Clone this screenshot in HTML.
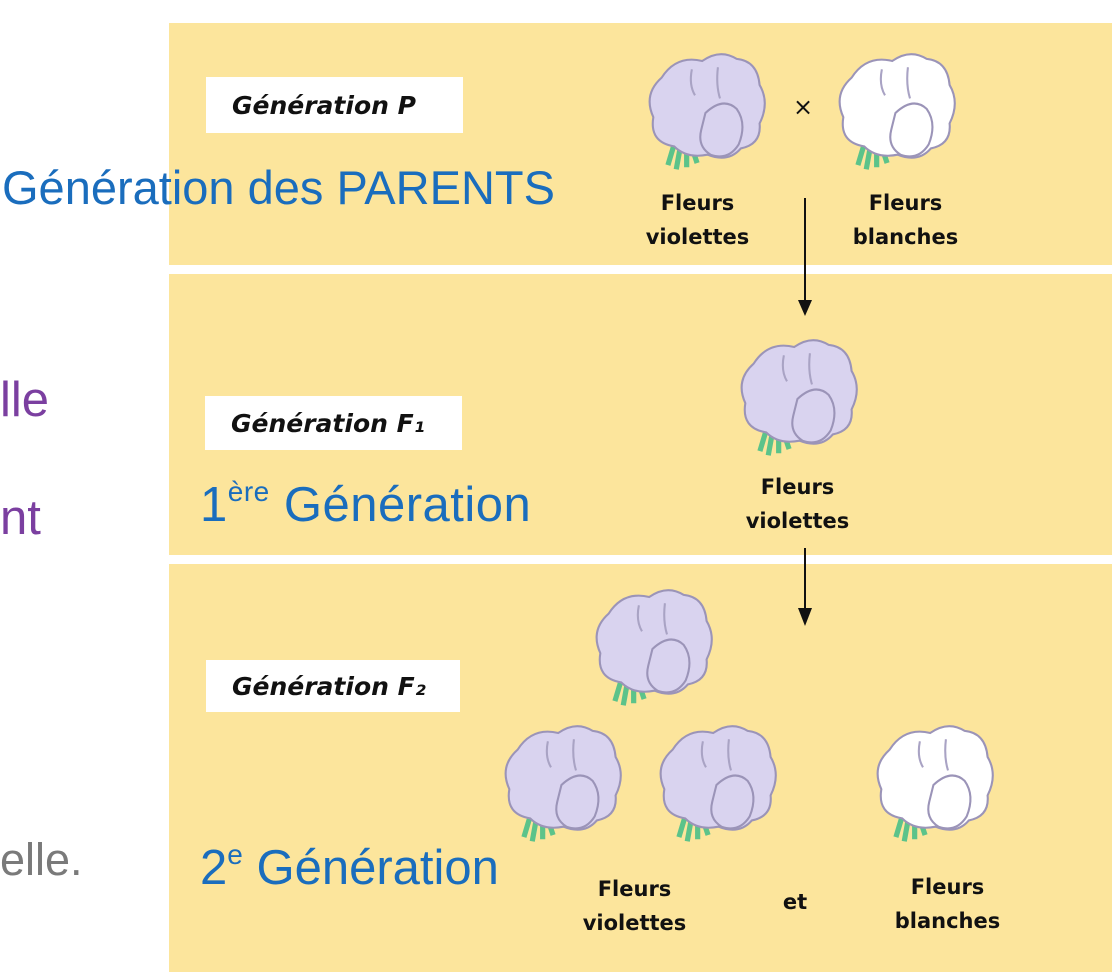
<!DOCTYPE html>
<html><head><meta charset="utf-8"><style>
body{margin:0;width:1112px;height:972px;background:#fff;position:relative;overflow:hidden;font-family:"Liberation Sans",sans-serif}
.p{position:absolute;left:169px;width:943px;background:#fce59c}
.lb{position:absolute;background:#fff;font-family:"Comic Sans MS","DejaVu Sans",sans-serif;font-weight:bold;font-style:italic;font-size:25px;color:#111;display:flex;align-items:center;padding-left:26px;box-sizing:border-box}
.t{position:absolute;font-family:"DejaVu Sans",sans-serif;font-weight:bold;font-size:21px;color:#111;text-align:center;line-height:34px}
.b{position:absolute;color:#1a6dbd;font-size:47px;white-space:nowrap}
svg.f{position:absolute}
</style></head><body>
<svg width="0" height="0" style="position:absolute"><defs>
<g id="fl">
<path d="M28 92 L22 112 M34 94 L30 116 M40 94 L40 114 M44 92 L50 110" stroke="#5cc38a" stroke-width="5" fill="none"/>
<path d="M16 28 Q30 6 55 12 Q72 0 88 10 Q108 12 110 35 Q120 52 110 72 Q112 92 92 96 Q80 110 60 102 Q40 106 28 94 Q4 90 8 66 Q-2 44 16 28Z" fill="var(--c)" stroke="#9b94b8" stroke-width="2"/>
<path d="M58 62 Q75 46 88 58 Q98 72 90 92 Q80 108 63 102 Q50 94 54 78Z" fill="var(--c)" stroke="#9b94b8" stroke-width="2"/>
<path d="M45 20 Q42 35 48 45 M70 18 Q68 35 72 48" stroke="#a9a3c4" stroke-width="2" fill="none"/>
</g></defs></svg>

<div class="p" style="top:23px;height:242px"></div>
<div class="p" style="top:274px;height:281px"></div>
<div class="p" style="top:564px;height:408px"></div>

<div class="lb" style="left:206px;top:77px;width:257px;height:56px">Génération P</div>
<div class="lb" style="left:205px;top:396px;width:257px;height:54px">Génération F₁</div>
<div class="lb" style="left:206px;top:660px;width:254px;height:52px">Génération F₂</div>

<svg class="f" style="left:645px;top:48px;--c:#d9d3ef" width="125" height="128" viewBox="0 0 120 122"><use href="#fl"/></svg>
<svg class="f" style="left:835px;top:48px;--c:#fff" width="125" height="128" viewBox="0 0 120 122"><use href="#fl"/></svg>
<svg class="f" style="left:737px;top:334px;--c:#d9d3ef" width="125" height="128" viewBox="0 0 120 122"><use href="#fl"/></svg>
<svg class="f" style="left:592px;top:584px;--c:#d9d3ef" width="125" height="128" viewBox="0 0 120 122"><use href="#fl"/></svg>
<svg class="f" style="left:501px;top:720px;--c:#d9d3ef" width="125" height="128" viewBox="0 0 120 122"><use href="#fl"/></svg>
<svg class="f" style="left:656px;top:720px;--c:#d9d3ef" width="125" height="128" viewBox="0 0 120 122"><use href="#fl"/></svg>
<svg class="f" style="left:873px;top:720px;--c:#fff" width="125" height="128" viewBox="0 0 120 122"><use href="#fl"/></svg>

<div class="t" style="left:793px;top:90px;font-weight:normal;font-size:24px">×</div>
<div class="t" style="left:630px;top:186px;width:135px">Fleurs<br>violettes</div>
<div class="t" style="left:838px;top:186px;width:135px">Fleurs<br>blanches</div>
<div class="t" style="left:730px;top:470px;width:135px">Fleurs<br>violettes</div>
<div class="t" style="left:567px;top:872px;width:135px">Fleurs<br>violettes</div>
<div class="t" style="left:775px;top:885px;width:40px">et</div>
<div class="t" style="left:880px;top:870px;width:135px">Fleurs<br>blanches</div>

<svg class="f" style="left:795px;top:198px" width="20" height="440">
<line x1="10" y1="0" x2="10" y2="112" stroke="#111" stroke-width="2"/>
<path d="M3 102 L10 118 L17 102 Z" fill="#111"/>
<line x1="10" y1="350" x2="10" y2="420" stroke="#111" stroke-width="2"/>
<path d="M3 410 L10 428 L17 410 Z" fill="#111"/>
</svg>

<div class="b" style="left:2px;top:160px">Génération des PARENTS</div>
<div class="b" style="left:0;top:372px;color:#7b3fa0;font-size:49px">lle</div>
<div class="b" style="left:0;top:490px;color:#7b3fa0;font-size:49px">nt</div>
<div class="b" style="left:0;top:834px;color:#7a7a7a;font-size:45px">elle.</div>
<div class="b" style="left:200px;top:476px;font-size:49px;letter-spacing:0.5px">1<sup style="font-size:28px;vertical-align:20px">ère</sup> Génération</div>
<div class="b" style="left:200px;top:839px;font-size:49px">2<sup style="font-size:28px;vertical-align:20px">e</sup> Génération</div>
</body></html>
